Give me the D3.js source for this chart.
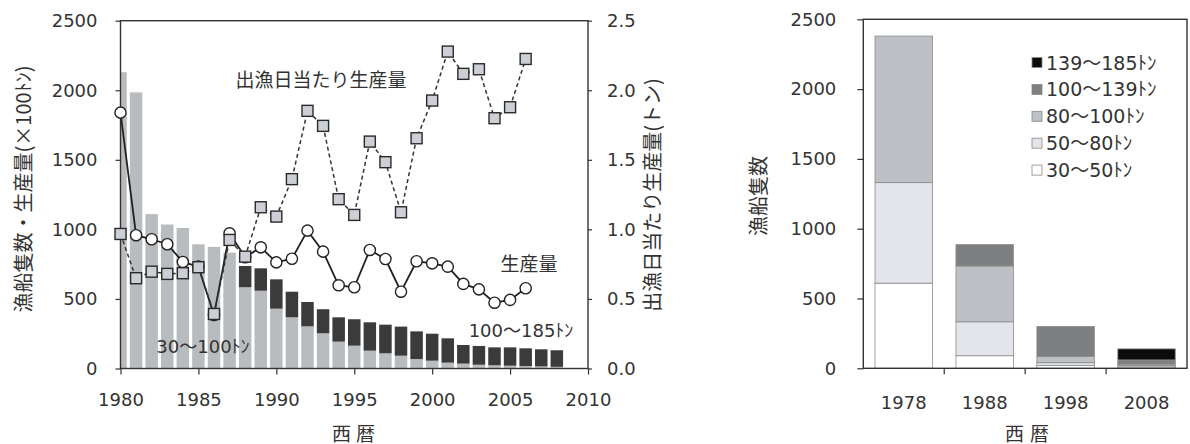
<!DOCTYPE html>
<html lang="ja">
<head>
<meta charset="utf-8">
<script src="https://cdn.jsdelivr.net/npm/d3@7"></script>
<style>
  html, body { margin: 0; padding: 0; background: #fff; }
  svg { display: block; }
  text { fill: #333; }
  .jp { font-family: "Noto Sans CJK JP", sans-serif; font-size: 19px; }
</style>
</head>
<body>
<svg id="chart" width="1190" height="444"></svg>
<script>
// ---- Left panel: vessels by tonnage class, production, production per fishing day ----
const years = [1980, 1981, 1982, 1983, 1984, 1985, 1986, 1987, 1988, 1989,
               1990, 1991, 1992, 1993, 1994, 1995, 1996, 1997, 1998, 1999,
               2000, 2001, 2002, 2003, 2004, 2005, 2006, 2007, 2008];
// vessels 30-100 t
const small = [2130, 1985, 1110, 1035, 1010, 893, 874, 833, 584, 559,
               430, 368, 303, 253, 193, 164, 128, 109, 92, 68,
               56, 42, 35, 27, 23, 20, 17, 15, 12];
// vessels 100-185 t
const large = [0, 0, 0, 0, 0, 0, 0, 0, 153, 161,
               211, 184, 175, 173, 175, 190, 204, 206, 209, 199,
               194, 175, 134, 135, 129, 132, 128, 123, 119];

const lineYears = [1980, 1981, 1982, 1983, 1984, 1985, 1986, 1987, 1988, 1989,
                   1990, 1991, 1992, 1993, 1994, 1995, 1996, 1997, 1998, 1999,
                   2000, 2001, 2002, 2003, 2004, 2005, 2006];
// production (×100 t)
const production = [1839, 958, 929, 893, 766, 732, 385, 972, 800, 871,
                    763, 789, 991, 840, 598, 584, 852, 787, 552, 771,
                    756, 732, 608, 569, 473, 493, 577];
// production per fishing day (t)
const perDay = [0.967, 0.649, 0.696, 0.680, 0.685, 0.728, 0.392, 0.924, 0.804, 1.159,
                1.092, 1.361, 1.852, 1.744, 1.217, 1.104, 1.631, 1.483, 1.123, 1.655,
                1.926, 2.278, 2.118, 2.151, 1.799, 1.878, 2.225];

const leftTicks = [0, 500, 1000, 1500, 2000, 2500];
const rightTicks = [0, 0.5, 1.0, 1.5, 2.0, 2.5];
const yearTicks = [1980, 1985, 1990, 1995, 2000, 2005, 2010];

// ---- Right panel: vessels by tonnage class ----
const classYears = ["1978", "1988", "1998", "2008"];
const t30_50   = [610, 90, 20, 10];
const t50_80   = [720, 243, 20, 10];
const t80_100  = [1050, 400, 45, 10];
const t100_139 = [0, 153, 215, 30];
const t139_185 = [0, 0, 0, 79];
const classNames = ["30〜50ﾄﾝ", "50〜80ﾄﾝ", "80〜100ﾄﾝ", "100〜139ﾄﾝ", "139〜185ﾄﾝ"];
const classColors = ["#ffffff", "#e3e5ea", "#bdc0c4", "#7e7f81", "#0c0c0c"];
const countTicks = [0, 500, 1000, 1500, 2000, 2500];

const svg = d3.select("#chart");
const ink = "#333";
const mixFont = '"DejaVu Sans", "Noto Sans CJK JP", sans-serif';

// ================= Left panel =================
const L = { left: 120.5, right: 588, top: 20.7, bottom: 368.5 };
const x = d3.scaleLinear().domain([1980, 2010]).range([L.left, L.right]);
const y = d3.scaleLinear().domain([0, 2500]).range([L.bottom, L.top]);
const y2 = d3.scaleLinear().domain([0, 2.5]).range([L.bottom, L.top]);
const barW = 12.5;

svg.append("clipPath").attr("id", "plotClip")
  .append("rect").attr("x", L.left).attr("y", L.top)
  .attr("width", L.right - L.left).attr("height", L.bottom - L.top);

const bars = svg.append("g").attr("clip-path", "url(#plotClip)");
bars.selectAll("rect.small").data(years).join("rect")
  .attr("x", d => x(d) - barW / 2)
  .attr("width", barW)
  .attr("y", (d, i) => y(small[i]))
  .attr("height", (d, i) => y(0) - y(small[i]))
  .attr("fill", "#b9bcbf");
bars.selectAll("rect.large").data(years).join("rect")
  .attr("x", d => x(d) - barW / 2)
  .attr("width", barW)
  .attr("y", (d, i) => y(small[i] + large[i]))
  .attr("height", (d, i) => y(small[i]) - y(small[i] + large[i]))
  .attr("fill", "#3b3b3c");

// frame
svg.append("rect").attr("x", L.left).attr("y", L.top)
  .attr("width", L.right - L.left).attr("height", L.bottom - L.top)
  .attr("fill", "none").attr("stroke", ink).attr("stroke-width", 1.4);

// axes
const axL = svg.append("g").attr("transform", `translate(${L.left},0)`)
  .call(d3.axisLeft(y).tickValues(leftTicks).tickFormat(d3.format("d")).tickSize(5).tickPadding(18));
const axR = svg.append("g").attr("transform", `translate(${L.right},0)`)
  .call(d3.axisRight(y2).tickValues(rightTicks).tickFormat(d3.format(".1f")).tickSize(4).tickPadding(15));
const axB = svg.append("g").attr("transform", `translate(0,${L.bottom})`)
  .call(d3.axisBottom(x).tickValues(yearTicks).tickFormat(d3.format("d")).tickSize(6).tickPadding(19));
[axL, axR, axB].forEach(a => {
  a.select(".domain").remove();
  a.selectAll("line").attr("stroke", ink).attr("stroke-width", 1.2);
  a.selectAll("text").attr("fill", ink).style("font-size", "18px").style("font-family", mixFont);
});

// production line (solid, open circles)
const prodLine = d3.line().x((d, i) => x(lineYears[i])).y(d => y(d));
svg.append("path").datum(production).attr("d", prodLine)
  .attr("fill", "none").attr("stroke", "#222").attr("stroke-width", 1.8);
svg.selectAll("circle.prod").data(production).join("circle")
  .attr("cx", (d, i) => x(lineYears[i])).attr("cy", d => y(d)).attr("r", 5.6)
  .attr("fill", "#fff").attr("stroke", "#222").attr("stroke-width", 1.4);

// per-day production (dashed, grey squares)
const dayLine = d3.line().x((d, i) => x(lineYears[i])).y(d => y2(d));
svg.append("path").datum(perDay).attr("d", dayLine)
  .attr("fill", "none").attr("stroke", "#333").attr("stroke-width", 1.5)
  .attr("stroke-dasharray", "4,3");
const sq = 11;
svg.selectAll("rect.day").data(perDay).join("rect")
  .attr("x", (d, i) => x(lineYears[i]) - sq / 2).attr("y", d => y2(d) - sq / 2)
  .attr("width", sq).attr("height", sq)
  .attr("fill", "#ccd0d6").attr("stroke", "#2a2a2a").attr("stroke-width", 1.4);

// annotations
svg.append("text").attr("class", "jp").attr("x", 321).attr("y", 78)
  .attr("text-anchor", "middle").attr("dominant-baseline", "central").text("出漁日当たり生産量");
svg.append("text").attr("class", "jp").attr("x", 529).attr("y", 262)
  .attr("text-anchor", "middle").attr("dominant-baseline", "central").text("生産量");
svg.append("text").attr("x", 521).attr("y", 330)
  .attr("text-anchor", "middle").attr("dominant-baseline", "central")
  .style("font-family", mixFont).style("font-size", "18px").text("100〜185ﾄﾝ");
svg.append("text").attr("x", 203).attr("y", 346)
  .attr("text-anchor", "middle").attr("dominant-baseline", "central")
  .style("font-family", mixFont).style("font-size", "18px").text("30〜100ﾄﾝ");

// axis titles
svg.append("text").attr("class", "jp")
  .attr("transform", "translate(22,189) rotate(-90)")
  .attr("text-anchor", "middle").attr("dominant-baseline", "central")
  .style("font-size", "20px")
  .text("漁船隻数・生産量(×100ﾄﾝ)");
svg.append("text").attr("class", "jp")
  .attr("transform", "translate(651,195) rotate(-90)")
  .attr("text-anchor", "middle").attr("dominant-baseline", "central")
  .style("font-size", "20px")
  .text("出漁日当たり生産量(トン)");
svg.append("text").attr("class", "jp").attr("x", 356).attr("y", 432)
  .attr("text-anchor", "middle").attr("dominant-baseline", "central")
  .style("letter-spacing", "5px").text("西暦");

// ================= Right panel =================
const R = { left: 863.3, right: 1187, top: 19.3, bottom: 368.3 };
const xb = d3.scaleBand().domain(classYears).range([R.left, R.right])
  .paddingInner(0.29).paddingOuter(0.145);
const yb = d3.scaleLinear().domain([0, 2500]).range([R.bottom, R.top]);

const classSeries = [t30_50, t50_80, t80_100, t100_139, t139_185];
const stackRows = classYears.map((c, i) => {
  const row = { year: c };
  classSeries.forEach((s, k) => { row["k" + k] = s[i]; });
  return row;
});
const stacked = d3.stack().keys(classSeries.map((s, k) => "k" + k))(stackRows);

svg.append("g").selectAll("g").data(stacked).join("g")
  .attr("fill", (d, k) => classColors[k])
  .selectAll("rect").data(d => d.filter(p => p[1] > p[0])).join("rect")
  .attr("x", p => xb(p.data.year))
  .attr("width", xb.bandwidth())
  .attr("y", p => yb(p[1]))
  .attr("height", p => yb(p[0]) - yb(p[1]))
  .attr("stroke", "#8c8c8c").attr("stroke-width", 0.8);

svg.append("rect").attr("x", R.left).attr("y", R.top)
  .attr("width", R.right - R.left).attr("height", R.bottom - R.top)
  .attr("fill", "none").attr("stroke", ink).attr("stroke-width", 1.4);

const axBL = svg.append("g").attr("transform", `translate(${R.left},0)`)
  .call(d3.axisLeft(yb).tickValues(countTicks).tickFormat(d3.format("d")).tickSize(6).tickPadding(21));
axBL.select(".domain").remove();
axBL.selectAll("line").attr("stroke", ink).attr("stroke-width", 1.2);
axBL.selectAll("text").attr("fill", ink).style("font-size", "18px").style("font-family", mixFont);

// category ticks sit between bands
const gap = (xb.step() - xb.bandwidth()) / 2;
svg.append("g").selectAll("line").data(classYears.slice(1)).join("line")
  .attr("x1", c => xb(c) - gap).attr("x2", c => xb(c) - gap)
  .attr("y1", R.bottom).attr("y2", R.bottom + 6)
  .attr("stroke", ink).attr("stroke-width", 1.2);
svg.append("g").selectAll("text").data(classYears).join("text")
  .attr("x", c => xb(c) + xb.bandwidth() / 2).attr("y", 402)
  .attr("text-anchor", "middle").attr("dominant-baseline", "central")
  .style("font-size", "18px").style("font-family", mixFont)
  .text(c => c);

// legend, largest class on top
const legendOrder = [4, 3, 2, 1, 0];
const lg = svg.append("g");
legendOrder.forEach((k, j) => {
  const cy = 62.5 + j * 26.9;
  lg.append("rect").attr("x", 1032).attr("y", cy - 5).attr("width", 10).attr("height", 10)
    .attr("fill", classColors[k]).attr("stroke", "#888").attr("stroke-width", 0.8);
  lg.append("text").attr("x", 1046).attr("y", cy)
    .attr("dominant-baseline", "central")
    .style("font-size", "19px").style("font-family", mixFont)
    .text(classNames[k]);
});

svg.append("text").attr("class", "jp")
  .attr("transform", "translate(757,196) rotate(-90)")
  .attr("text-anchor", "middle").attr("dominant-baseline", "central")
  .style("font-size", "20px").text("漁船隻数");
svg.append("text").attr("class", "jp").attr("x", 1030).attr("y", 432)
  .attr("text-anchor", "middle").attr("dominant-baseline", "central")
  .style("letter-spacing", "6px").text("西暦");
</script>
</body>
</html>
